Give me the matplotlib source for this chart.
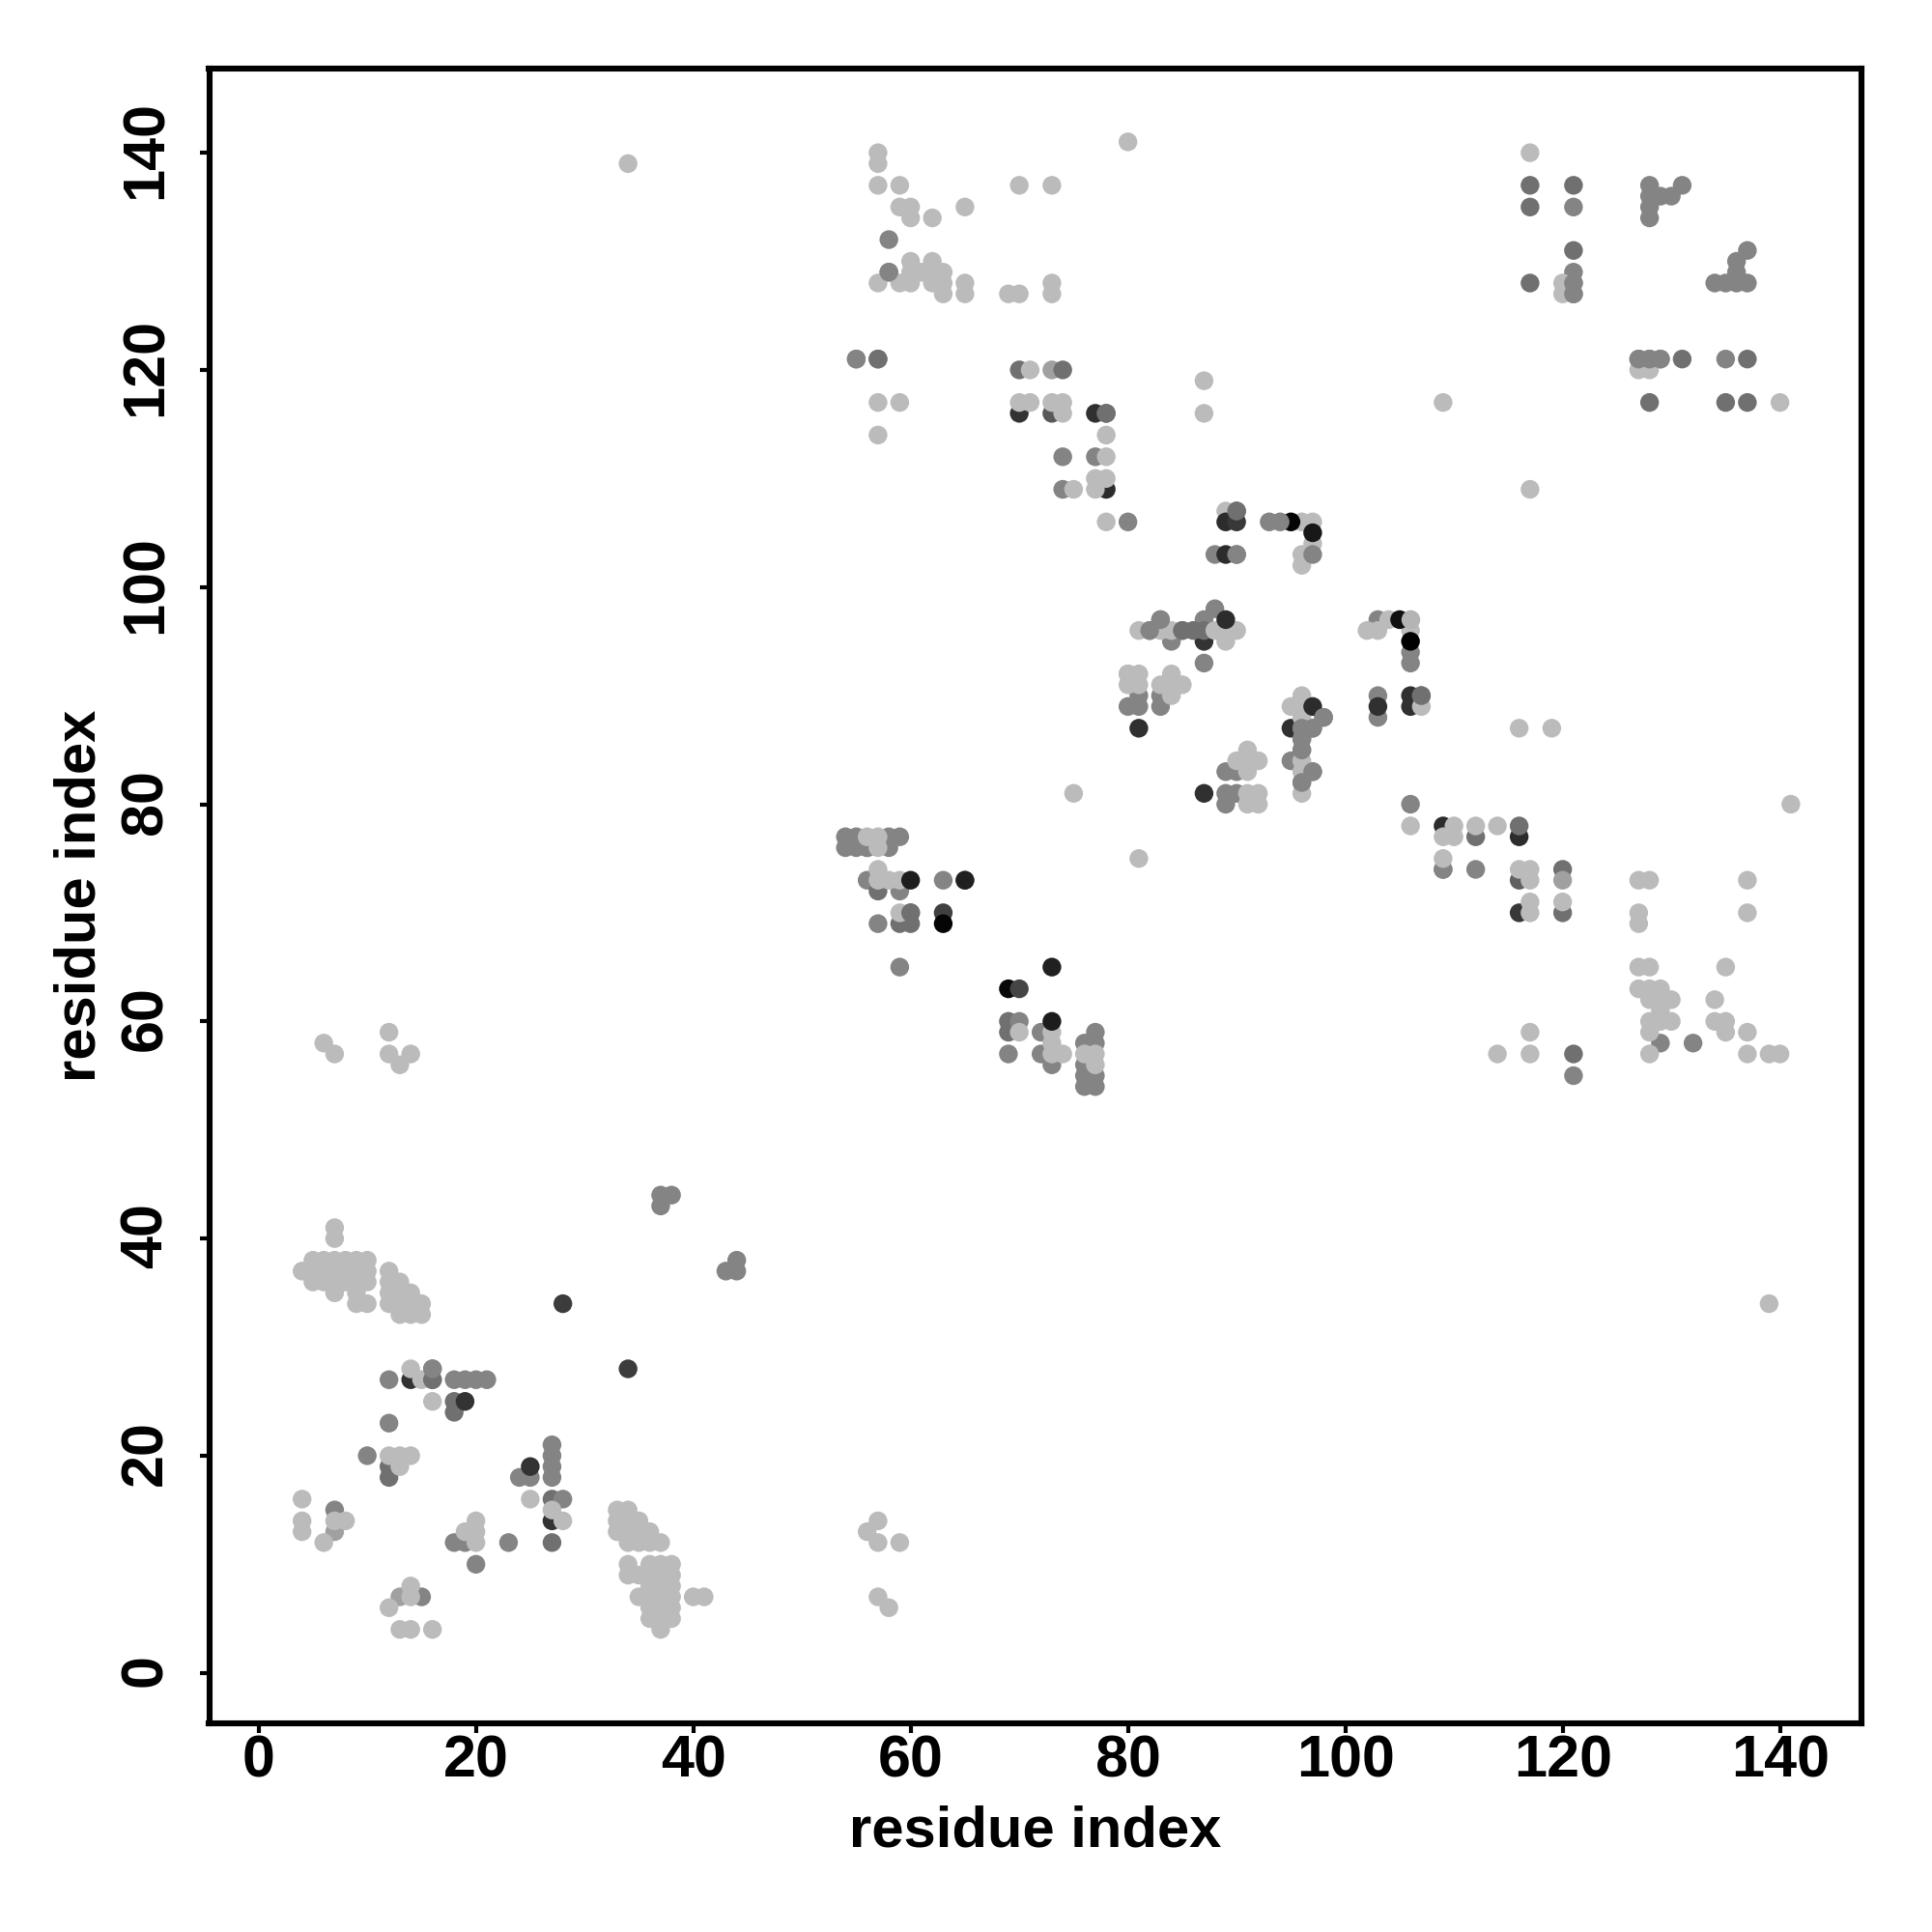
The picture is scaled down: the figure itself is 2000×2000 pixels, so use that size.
import matplotlib
matplotlib.use('Agg')
import matplotlib.pyplot as plt
from matplotlib.transforms import ScaledTranslation

plt.rcParams['font.family'] = ['Liberation Sans', 'DejaVu Sans']
plt.rcParams['font.weight'] = 'bold'

# contacts by shade, drawn in this order so the overlaps come out right
under_dark_x = [14, 27, 70, 78, 87, 116, 116, 116, 95, 73, 109, 77, 106, 106]
under_dark_y = [27, 14, 116, 109, 95, 77, 70, 73, 87, 116, 78, 116, 90, 89]
under_dark_g = [0x33, 0x33, 0x33, 0x2c, 0x33, 0x2c, 0x38, 0x60, 0x30, 0x58, 0x2c, 0x30, 0x30, 0x30]

mid_x = [54, 55, 56, 58, 59, 54, 55, 56, 58, 56, 57, 59, 60, 59, 60, 57, 59, 69, 69, 70, 72, 72, 73, 76, 76, 76, 76, 77, 77, 77,
         37, 38, 37, 44, 43, 44, 12, 16, 16, 18, 19, 20, 21, 18, 18, 12, 10, 12, 12, 24, 25, 27, 27, 27, 27, 27, 28, 7, 7,
         18, 19, 23, 27, 20, 13, 15, 58, 58, 55, 57, 70, 73, 74, 74, 77, 74, 78, 90, 93, 88, 90, 88, 83, 87, 82, 85, 86, 87, 84, 87,
         81, 83, 80, 81, 83, 89, 90, 89, 90, 89, 98, 96, 97, 96, 96, 95, 97, 96, 103, 106, 106, 103, 103, 107, 106,
         109, 112, 112, 109, 120, 120, 120, 121, 121, 129, 132,
         117, 121, 117, 121, 121, 117, 121, 121, 121, 128, 128, 129, 130, 131, 128, 128, 137, 136, 136, 134, 135, 136, 137,
         127, 128, 129, 131, 135, 137, 128, 135, 137, 55, 57, 80, 63, 65, 77, 69]
mid_y = [77, 77, 76, 77, 77, 76, 76, 76, 76, 73, 72, 72, 70, 65, 69, 69, 69, 60, 59, 60, 59, 57, 56, 58, 56, 55, 54, 59, 58, 55,
         44, 44, 43, 38, 37, 37, 27, 28, 27, 27, 27, 27, 27, 25, 24, 23, 20, 19, 18, 18, 18, 21, 20, 19, 18, 16, 16, 15, 13,
         12, 12, 12, 12, 10, 7, 7, 132, 129, 121, 121, 120, 120, 120, 112, 112, 109, 116, 107, 106, 103, 103, 98, 97, 97, 96, 96, 96, 96, 95, 93,
         90, 90, 89, 89, 89, 83, 83, 81, 81, 80, 88, 87, 87, 86, 85, 84, 83, 82, 97, 94, 93, 90, 88, 90, 80,
         74, 74, 77, 74, 74, 73, 70, 57, 55, 58, 58,
         137, 137, 135, 135, 131, 128, 129, 128, 127, 137, 136, 136, 136, 137, 135, 134, 131, 130, 129, 128, 128, 128, 128,
         121, 121, 121, 121, 121, 121, 117, 117, 117, 121, 121, 106, 73, 73, 54, 57]

pale_x = [7, 7, 5, 6, 7, 8, 9, 10, 4, 5, 6, 7, 8, 9, 10, 5, 6, 7, 8, 9, 10, 7, 9, 9, 10,
          12, 12, 12, 12, 13, 13, 13, 13, 14, 14, 14, 15, 15, 14, 15, 16, 12, 13, 14, 13, 25, 27, 28,
          4, 4, 4, 7, 8, 6, 20, 19, 20, 20, 14, 14, 12, 13, 14, 16,
          33, 34, 33, 34, 35, 33, 34, 35, 36, 34, 35, 36, 37, 34, 36, 37, 38, 34, 35, 36, 37, 38, 36, 37, 38,
          35, 36, 37, 38, 40, 41, 36, 37, 38, 36, 37, 38, 37,
          57, 56, 57, 59, 57, 58, 6, 7, 12, 12, 13, 14, 139, 34,
          56, 57, 57, 57, 57, 58, 59, 59, 70, 73, 73, 73, 74, 76, 77, 77, 81,
          57, 57, 57, 59, 70, 73, 80, 59, 60, 65, 60, 62, 60, 62, 60, 61, 62, 63, 57, 59, 60, 62, 63, 65, 63, 65, 69, 70, 73, 73,
          71, 57, 59, 70, 71, 73, 74, 74, 87, 87, 57, 78, 78, 77, 78, 75, 77, 78, 80,
          89, 81, 83, 84, 88, 89, 90, 89, 80, 81, 84, 80, 81, 83, 84, 85, 84,
          91, 90, 91, 92, 91, 91, 92, 91, 92, 96, 95, 96, 96, 96, 96, 96,
          102, 103, 104, 106, 106, 107, 106, 110, 110, 109, 112, 114, 109, 116, 117, 117, 127, 128, 137, 117, 120, 127, 137, 127,
          116, 119, 127, 128, 135, 127, 128, 129, 128, 129, 130, 134, 129, 128, 129, 130, 134, 135, 128, 135, 117, 137, 114, 117, 128, 137, 139, 140,
          117, 120, 120, 127, 128, 140, 117, 109, 141, 75,
          96, 97, 97, 96, 96, 117]
pale_y = [41, 40, 38, 38, 38, 38, 38, 38, 37, 37, 37, 37, 37, 37, 37, 36, 36, 36, 36, 36, 36, 35, 35, 34, 34,
          37, 36, 35, 34, 36, 35, 34, 33, 35, 34, 33, 34, 33, 28, 27, 25, 20, 20, 20, 19, 16, 15, 14,
          16, 14, 13, 14, 14, 12, 14, 13, 13, 12, 8, 7, 6, 4, 4, 4,
          15, 15, 14, 14, 14, 13, 13, 13, 13, 12, 12, 12, 12, 10, 10, 10, 10, 9, 9, 9, 9, 9, 8, 8, 8,
          7, 7, 7, 7, 7, 7, 6, 6, 6, 5, 5, 5, 4,
          14, 13, 12, 12, 7, 6, 58, 57, 59, 57, 56, 57, 34, 139,
          77, 77, 76, 74, 73, 73, 73, 70, 59, 59, 58, 57, 57, 57, 57, 56, 75,
          140, 139, 137, 137, 137, 137, 141, 135, 135, 135, 134, 134, 130, 130, 129, 129, 129, 129, 128, 128, 128, 128, 128, 128, 127, 127, 127, 127, 128, 127,
          120, 117, 117, 117, 117, 117, 117, 116, 119, 116, 114, 114, 112, 110, 110, 109, 109, 106, 92,
          107, 96, 96, 96, 96, 96, 96, 95, 92, 92, 92, 91, 91, 91, 91, 91, 90,
          85, 84, 84, 84, 83, 81, 81, 80, 80, 90, 89, 89, 88, 84, 83, 81,
          96, 96, 97, 97, 96, 89, 78, 78, 77, 77, 78, 78, 75, 74, 74, 73, 73, 73, 73, 71, 71, 70, 70, 69,
          87, 87, 65, 65, 65, 63, 63, 63, 62, 62, 62, 62, 61, 60, 60, 60, 60, 60, 59, 59, 59, 59, 57, 57, 57, 57, 57, 57,
          70, 128, 127, 120, 120, 117, 109, 117, 80, 81,
          106, 106, 104, 103, 102, 140]

top_dark_x = [28, 34, 19, 25, 60, 65, 63, 63, 73, 69, 70, 73, 89, 90, 89, 89, 81, 87, 97, 103, 105, 106, 95, 97]
top_dark_y = [34, 28, 25, 19, 73, 73, 70, 69, 65, 63, 63, 60, 106, 106, 103, 97, 87, 81, 89, 89, 97, 95, 106, 105]
top_dark_g = [0x3c, 0x3c, 0x33, 0x33, 0x1e, 0x20, 0x40, 0x05, 0x20, 0x08, 0x45, 0x1c, 0x2c, 0x38, 0x2c, 0x2c, 0x30, 0x30, 0x2c, 0x30, 0x10, 0x00, 0x05, 0x18]

# mid greys that sit on top of their neighbours
top_mid_x = [96, 96, 96, 97, 97, 98, 96, 16, 16, 60, 78, 90, 90, 107, 121, 121, 127, 128, 129, 83, 82, 85, 58, 116, 94, 97]
top_mid_y = [87, 85, 82, 83, 87, 88, 86, 27, 28, 70, 116, 107, 103, 90, 128, 127, 121, 121, 121, 97, 96, 96, 129, 78, 106, 103]

# darker and lighter ones among the mid greys
deep_x = [12, 12, 18, 18, 16, 27, 27, 57, 60, 59, 60, 69, 70, 74, 78, 90, 85, 86, 87, 107, 116, 112, 120, 120, 121, 117, 121, 117, 121, 117, 131, 137, 128, 135, 137, 69, 57]
deep_y = [18, 19, 25, 24, 27, 16, 12, 72, 69, 69, 70, 59, 120, 120, 116, 107, 96, 96, 96, 90, 78, 77, 74, 70, 57, 137, 137, 135, 131, 128, 121, 121, 117, 117, 117, 60, 121]
soft_x = [7, 13, 73, 120]
soft_y = [13, 7, 120, 73]

pale_top_x = [106]
pale_top_y = [97]

xticks = [0, 20, 40, 60, 80, 100, 120, 140]
yticks = [0, 20, 40, 60, 80, 100, 120, 140]

deep = set(zip(deep_x, deep_y))
soft = set(zip(soft_x, soft_y))


def mid_grey(xs, ys):
    out = []
    for p in zip(xs, ys):
        if p in deep:
            out.append(0x70)
        elif p in soft:
            out.append(0xa0)
        else:
            out.append(0x84)
    return out


fig = plt.figure(figsize=(20, 20), dpi=100)
ax = fig.add_axes([216.5 / 2000, 1 - 1784 / 2000, 1710.5 / 2000, 1713 / 2000])

groups = [(under_dark_x, under_dark_y, under_dark_g),
          (mid_x, mid_y, mid_grey(mid_x, mid_y)),
          (pale_x, pale_y, [0xbb] * len(pale_x)),
          (top_dark_x, top_dark_y, top_dark_g),
          (top_mid_x, top_mid_y, mid_grey(top_mid_x, top_mid_y)),
          (pale_top_x, pale_top_y, [0xb4])]
for xs, ys, gs in groups:
    cols = [(g / 255, g / 255, g / 255) for g in gs]
    ax.scatter(xs, ys, s=195, c=cols, linewidths=0)

ax.set_xlim(-4.55, 147.5)
ax.set_ylim(-4.65, 147.75)
ax.set_xticks(xticks)
ax.set_yticks(yticks)
ax.tick_params(length=7, width=3, labelsize=44, pad=1)
ax.tick_params(axis='y', pad=19)
nudge = ScaledTranslation(0, 2 / 72, fig.dpi_scale_trans)
for lab in ax.get_yticklabels():
    lab.set_rotation(90)
    lab.set_va('center')
    lab.set_transform(lab.get_transform() + nudge)
for sp in ax.spines.values():
    sp.set_linewidth(4.4)
ax.set_xlabel('residue index', fontsize=43, fontweight='bold', labelpad=12)
ax.set_ylabel('residue index', fontsize=43, fontweight='bold', labelpad=9)

fig.savefig('out.png', dpi=100)
